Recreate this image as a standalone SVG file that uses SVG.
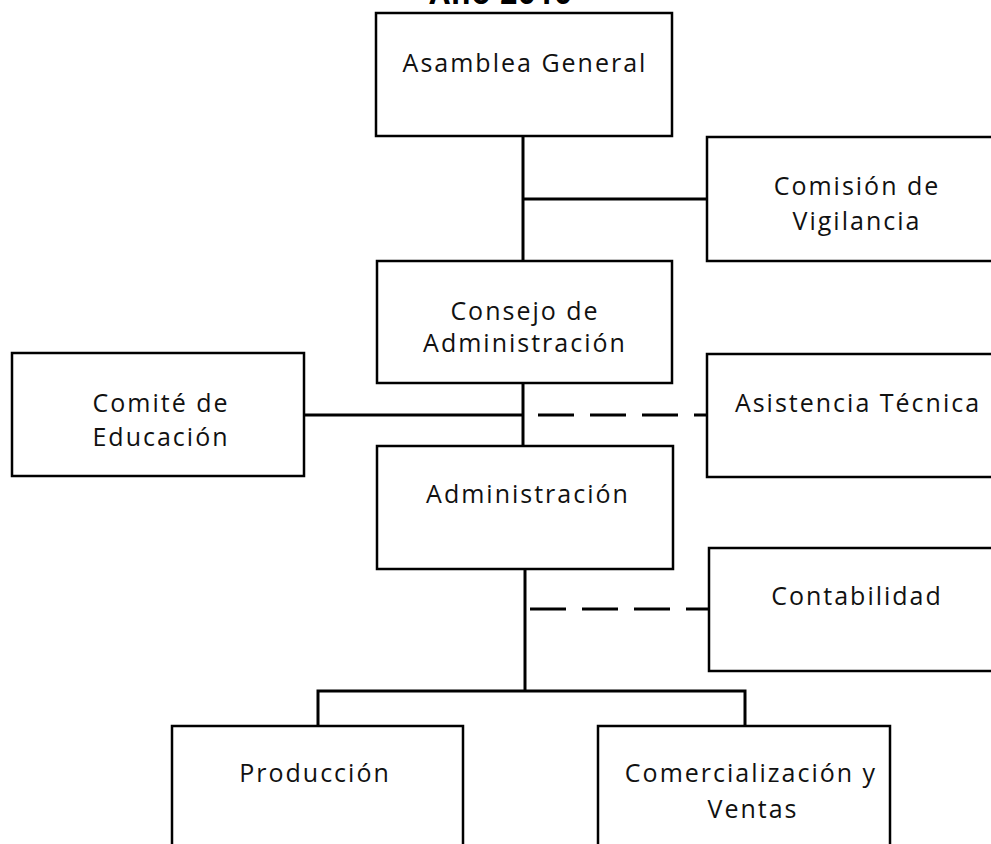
<svg xmlns="http://www.w3.org/2000/svg" width="991" height="844" viewBox="0 0 991 844">
<style>
.box{fill:#fff;stroke:#000;stroke-width:2.5}
.t{font-family:"Open Sans","Noto Sans",sans-serif;font-size:25px;fill:#111;text-anchor:middle;letter-spacing:2px}
.ln{fill:none;stroke:#000;stroke-width:3}
.dash{fill:none;stroke:#000;stroke-width:3;stroke-dasharray:36 16}
</style>
<rect width="991" height="844" fill="#fff"/>
<text x="501" y="4" style="font-family:'Open Sans',sans-serif;font-size:30px;font-weight:bold;text-anchor:middle;letter-spacing:1px">Año 2010</text>
<g id="connectors">
<line class="ln" x1="523" y1="136" x2="523" y2="261"/>
<line class="ln" x1="523" y1="199" x2="708" y2="199"/>
<line class="ln" x1="523" y1="383" x2="523" y2="446"/>
<line class="ln" x1="304" y1="415" x2="524" y2="415"/>
<path class="dash" d="M538 415 H708"/>
<line class="ln" x1="525" y1="569" x2="525" y2="691"/>
<path class="dash" d="M530 609 H709"/>
<path class="ln" d="M318 726 V691 H745 V726"/>
</g>
<g id="asamblea"><rect class="box" x="376" y="13" width="296" height="123"/><text class="t" x="525" y="72">Asamblea General</text></g>
<g id="vigilancia"><rect class="box" x="707" y="137" width="300" height="124"/><text class="t" x="857" y="195">Comisión de</text><text class="t" x="857" y="230">Vigilancia</text></g>
<g id="consejo"><rect class="box" x="377" y="261" width="295" height="122"/><text class="t" x="525" y="320">Consejo de</text><text class="t" x="525" y="352">Administración</text></g>
<g id="comite"><rect class="box" x="12" y="353" width="292" height="123"/><text class="t" x="161" y="412">Comité de</text><text class="t" x="161" y="446">Educación</text></g>
<g id="asistencia"><rect class="box" x="707" y="354" width="300" height="123"/><text class="t" x="858" y="412">Asistencia Técnica</text></g>
<g id="administracion"><rect class="box" x="377" y="446" width="296" height="123"/><text class="t" x="528" y="503">Administración</text></g>
<g id="contabilidad"><rect class="box" x="709" y="548" width="300" height="123"/><text class="t" x="857" y="605">Contabilidad</text></g>
<g id="produccion"><rect class="box" x="172" y="726" width="291" height="130"/><text class="t" x="315" y="782">Producción</text></g>
<g id="comercializacion"><rect class="box" x="598" y="726" width="292" height="130"/><text class="t" x="751" y="782">Comercialización y</text><text class="t" x="753" y="818">Ventas</text></g>
</svg>
